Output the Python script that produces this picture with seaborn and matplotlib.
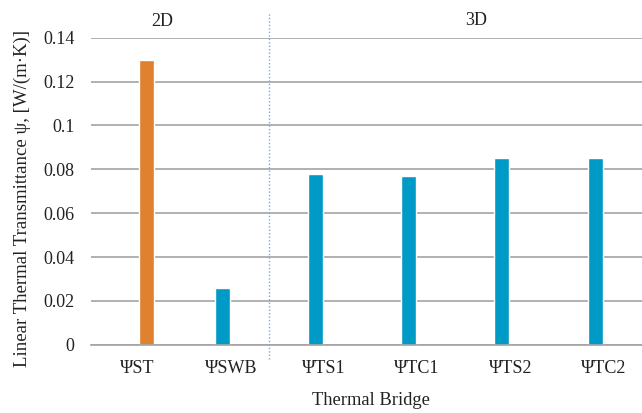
import matplotlib
matplotlib.use("Agg")
import matplotlib.pyplot as plt
import seaborn as sns
import pandas as pd
import numpy as np

# Linear thermal transmittance of each thermal bridge
bridges = ["ΨST", "ΨSWB", "ΨTS1", "ΨTC1", "ΨTS2", "ΨTC2"]
psi_values = [0.130, 0.026, 0.078, 0.077, 0.085, 0.085]
series = ["Slab", "Junction", "Junction", "Junction", "Junction", "Junction"]
series_order = ["Junction", "Slab"]
series_colors = {"Junction": "#009AC6", "Slab": "#E0812F"}
y_ticks = [0, 0.02, 0.04, 0.06, 0.08, 0.1, 0.12, 0.14]
region_labels = ["2D", "3D"]

df = pd.DataFrame({"bridge": bridges, "psi": psi_values, "series": series})

sns.set_theme(style="white")
plt.rcParams["font.family"] = ["Liberation Serif", "DejaVu Serif"]

fig = plt.figure(figsize=(6.42, 4.13), dpi=100)
# the plot area runs slightly past the right edge of the figure
ax = fig.add_axes([0.1417, 0.1651, 0.871, 0.7436])

sns.barplot(data=df, x="bridge", y="psi", hue="series", order=bridges,
            hue_order=series_order, palette=series_colors, dodge=True,
            width=0.365, gap=0.12, legend=False, ax=ax, saturation=1)

grid_color = "#A3A3A3"
text_color = "#222222"
ax.set_ylim(0, 0.14)
ax.set_xlim(-0.5, 5.5)
ax.set_yticks(y_ticks)
ax.set_yticklabels([f"{v:g}" for v in y_ticks])
ax.yaxis.grid(True, color=grid_color, linewidth=1.2)
ax.set_axisbelow(True)
for side in ["top", "right", "left"]:
    ax.spines[side].set_visible(False)
ax.spines["bottom"].set_color(grid_color)
ax.spines["bottom"].set_linewidth(1.2)

ax.tick_params(axis="y", length=0, pad=12, labelsize=13, labelcolor=text_color)
ax.tick_params(axis="x", which="major", length=0, pad=11, labelsize=13,
               labelcolor=text_color)
ax.set_xticks(np.arange(-0.5, 6.0, 1.0), minor=True)
ax.tick_params(axis="x", which="minor", length=6, width=1.0, color="#777777",
               direction="out")

ax.set_xlabel("Thermal Bridge", fontsize=13.3, color=text_color, labelpad=11)
ax.set_ylabel("Linear Thermal Transmittance ψ, [W/(m·K)]", fontsize=13.5,
              color=text_color)
ax.yaxis.set_label_coords(-0.107, 0.476)

# Divider between the 2D and 3D bridges
ax.plot([1.41, 1.41], [-0.0065, 0.1517], color="#7FA8E0", linestyle=(0, (1, 1.5)),
        linewidth=1.0, clip_on=False, zorder=3)

ax.text(0.27, 0.1473, region_labels[0], ha="center", va="center",
        fontsize=13, color=text_color)
ax.text(3.63, 0.1478, region_labels[1], ha="center", va="center",
        fontsize=13, color=text_color)

fig.savefig("out.png", dpi=100)
